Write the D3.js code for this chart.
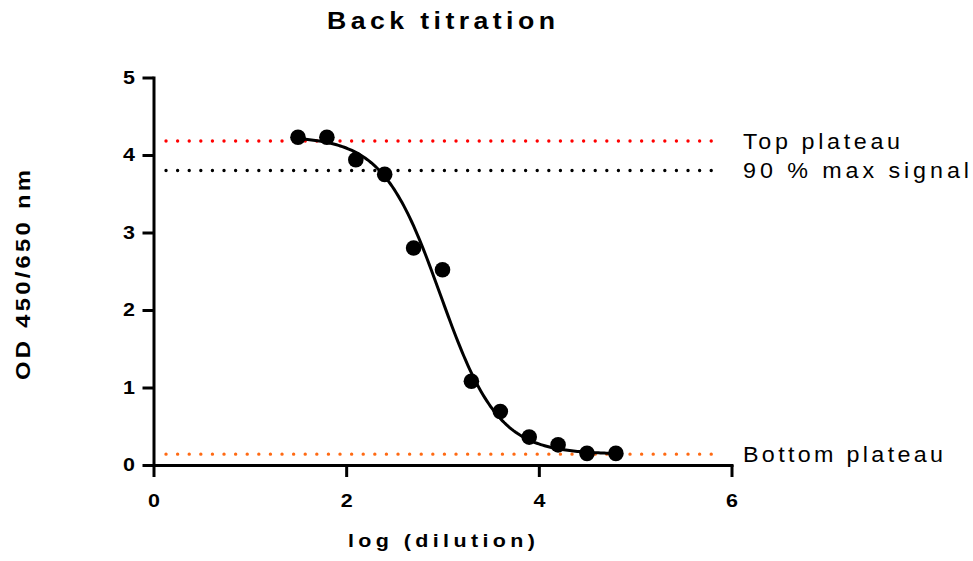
<!DOCTYPE html>
<html>
<head>
<meta charset="utf-8">
<script src="https://cdn.jsdelivr.net/npm/d3@7"></script>
<style>
  html, body { margin: 0; padding: 0; background: #fff; }
  svg { display: block; font-family: "Liberation Sans", Arial, sans-serif; }
</style>
</head>
<body>
<svg id="chart" width="973" height="561"></svg>
<script>
// ---- data ----
const logDilution = [1.5, 1.8, 2.1, 2.4, 2.7, 3.0, 3.3, 3.6, 3.9, 4.2, 4.5, 4.8];
const odValues    = [4.23, 4.23, 3.94, 3.75, 2.80, 2.52, 1.08, 0.69, 0.36, 0.26, 0.15, 0.15];
// four-parameter logistic fit (GraphPad style)
const fitBottom = 0.14, fitTop = 4.24, fitLogEC50 = 2.98, fitHill = 1.45;
const refLabels = ["Top plateau", "90 % max signal", "Bottom plateau"];
const refValues = [4.18, 3.80, 0.14];
const refColors = ["#ff0000", "#000000", "#ff6a13"];
const xTicks = [0, 2, 4, 6];
const yTicks = [0, 1, 2, 3, 4, 5];
const titleText = "Back titration";
const xTitle = "log (dilution)";
const yTitle = "OD 450/650 nm";

// ---- layout ----
const svg = d3.select("#chart");
const x = d3.scaleLinear().domain([0, 6]).range([153.5, 731.5]);
const y = d3.scaleLinear().domain([0, 5]).range([465, 77.5]);
const SX = 1.16; // horizontal glyph stretch seen in the original export

// reference dotted lines
const refG = svg.append("g");
const refWidths = [157, 226, 200];
refValues.forEach((v, i) => {
  refG.append("line")
    .attr("x1", x(0.13)).attr("x2", x(5.9))
    .attr("y1", y(v)).attr("y2", y(v))
    .attr("stroke", refColors[i])
    .attr("stroke-width", 3.4)
    .attr("stroke-linecap", "round")
    .attr("stroke-dasharray", "0 11.6");
  refG.append("text")
    .attr("transform", `translate(743,${y(v)}) scale(1.06,1)`)
    .attr("dy", "0.36em")
    .attr("font-size", 22)
    .attr("textLength", refWidths[i] / 1.06)
    .attr("lengthAdjust", "spacing")
    .attr("fill", "#000")
    .text(refLabels[i]);
});

// axes
const fmt = d3.format("d");
const yAxis = svg.append("g")
  .attr("transform", `translate(${x(0)},0)`)
  .call(d3.axisLeft(y).tickValues(yTicks).tickFormat(fmt).tickSize(11).tickSizeOuter(0).tickPadding(7));
const xAxis = svg.append("g")
  .attr("transform", `translate(0,${y(0)})`)
  .call(d3.axisBottom(x).tickValues(xTicks).tickFormat(fmt).tickSize(12).tickSizeOuter(0).tickPadding(17));
[yAxis, xAxis].forEach(g => {
  g.attr("font-size", 19).attr("font-family", "Liberation Sans, Arial, sans-serif");
  g.selectAll("path.domain").attr("stroke", "#000").attr("stroke-width", 3).attr("stroke-linecap", "square");
  g.selectAll(".tick line").attr("stroke", "#000").attr("stroke-width", 3);
  g.selectAll(".tick text")
    .attr("fill", "#000")
    .style("font-size", "18.5px")
    .attr("font-weight", "bold");
});
yAxis.selectAll(".tick text")
  .attr("x", 0)
  .attr("transform", "translate(-18.5,0) scale(" + SX + ",1)");
xAxis.selectAll(".tick text")
  .attr("transform", "scale(" + SX + ",1)");

// fitted curve
const fit = v => fitBottom + (fitTop - fitBottom) / (1 + Math.pow(10, (v - fitLogEC50) * fitHill));
const curveX = d3.range(logDilution[0], logDilution[logDilution.length - 1] + 1e-9, 0.02);
svg.append("path")
  .datum(curveX)
  .attr("fill", "none")
  .attr("stroke", "#000")
  .attr("stroke-width", 3)
  .attr("d", d3.line().x(d => x(d)).y(d => y(fit(d))));

// points
svg.append("g").selectAll("circle")
  .data(logDilution)
  .join("circle")
  .attr("cx", d => x(d))
  .attr("cy", (d, i) => y(odValues[i]))
  .attr("r", 7.8)
  .attr("fill", "#000");

// titles
svg.append("text")
  .attr("transform", `translate(441,29) scale(${SX},1)`)
  .attr("text-anchor", "middle")
  .attr("font-size", 23)
  .attr("font-weight", "bold")
  .attr("textLength", 228 / SX)
  .attr("lengthAdjust", "spacing")
  .text(titleText);

svg.append("text")
  .attr("transform", `translate(441.5,547) scale(${SX},1)`)
  .attr("text-anchor", "middle")
  .attr("font-size", 18.5)
  .attr("font-weight", "bold")
  .attr("textLength", 187 / SX)
  .attr("lengthAdjust", "spacing")
  .text(xTitle);

svg.append("text")
  .attr("transform", `translate(29.5,275) rotate(-90) scale(${SX},1)`)
  .attr("text-anchor", "middle")
  .attr("font-size", 20.5)
  .attr("font-weight", "bold")
  .attr("textLength", 210 / SX)
  .attr("lengthAdjust", "spacing")
  .text(yTitle);
</script>
</body>
</html>
